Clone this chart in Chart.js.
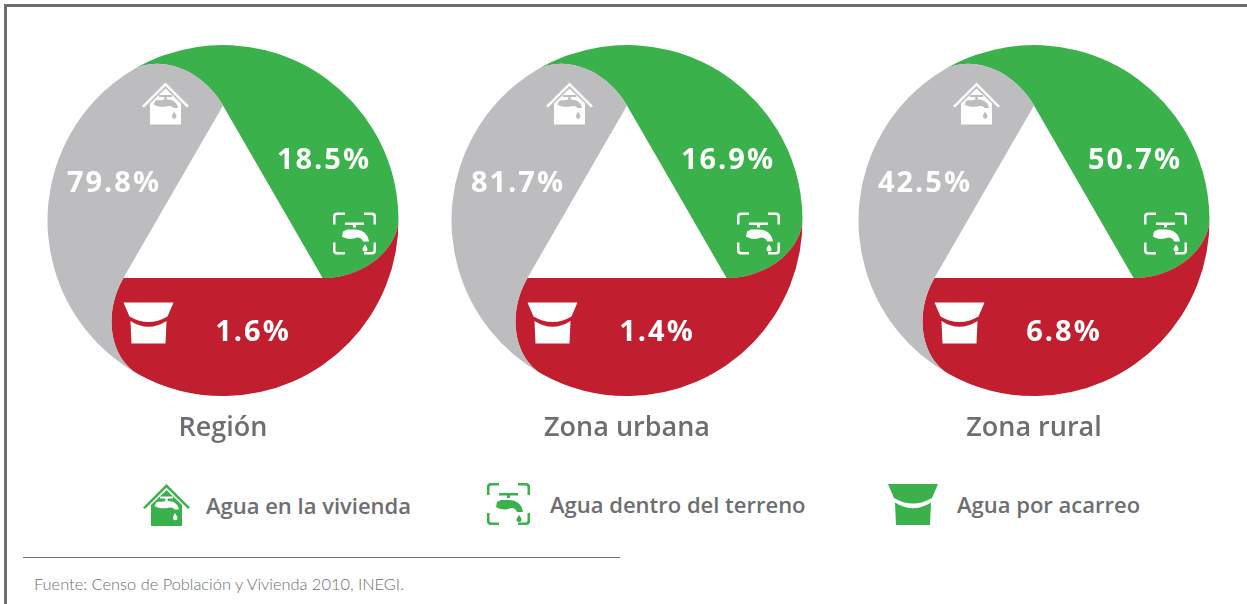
<!DOCTYPE html>
<html lang="es">
<head>
<meta charset="utf-8">
<script src="https://cdn.jsdelivr.net/npm/chart.js@4"></script>
<style>
html,body{margin:0;padding:0;background:#fff;}
body{width:1247px;height:604px;position:relative;overflow:hidden;font-family:"Open Sans",sans-serif;color:#6d6e71;}
#frameTop{position:absolute;left:4px;top:4px;width:1243px;height:3px;background:#6d6e71;}
#frameLeft{position:absolute;left:4px;top:4px;width:3px;height:600px;background:#6d6e71;}
canvas{position:absolute;top:0;}
.leg{position:absolute;white-space:nowrap;font-weight:600;font-size:22px;line-height:28px;}
.ico{position:absolute;}
#rule{position:absolute;left:23px;top:557px;width:597px;height:1px;background:#6d6e71;}
#src{position:absolute;left:34px;top:574px;font-family:"Lato",sans-serif;font-weight:300;font-size:16.4px;line-height:20px;white-space:nowrap;color:#6d6e71;}
</style>
</head>
<body>
<div id="frameTop"></div><div id="frameLeft"></div>
<canvas id="c0" width="400" height="446" style="left:22.5px"></canvas>
<canvas id="c1" width="400" height="446" style="left:427px"></canvas>
<canvas id="c2" width="400" height="446" style="left:833.5px"></canvas>
<div id="legend"></div>
<div id="rule"></div>
<div id="src"></div>
<script>
const categories = ['Agua dentro del terreno', 'Agua por acarreo', 'Agua en la vivienda'];
const panelTitles = ['Región', 'Zona urbana', 'Zona rural'];
const regionValues = [18.5, 1.6, 79.8];
const urbanValues = [16.9, 1.4, 81.7];
const ruralValues = [50.7, 6.8, 42.5];
const sliceColors = ['#3AB14A', '#C11F2F', '#BDBDBF'];
const legendOrder = [2, 0, 1];
const sourceNote = 'Fuente: Censo de Población y Vivienda 2010, INEGI.';

const iconPaths = {
  house: {w:47,h:42,d:'M23.5 0 L47 23.5 L45 25 L23.5 3.5 L2 25 L0 23.5Z M23.5 6 L39 21 V42 H8 V21Z M17 12.5 H30 V14.5 H24.7 V17 C31 17 35 20 36 25.5 H31.5 C30.5 24 29 23.5 27 23.5 C23 24.5 16 25 11.5 22 L13.5 18 C16 17.5 20 18 22.3 17 V14.5 H17Z M32 29 C33.5 31.5 34.5 32.5 34.5 34 A2.2 2.2 0 0 1 30 34 C30 32.5 31 31 32 29Z'},
  tap: {w:43,h:42,d:'M0 12 V4 Q0 0 4 0 H12 V2.5 H4.5 Q2.5 2.5 2.5 4.5 V12Z M31 0 H39 Q43 0 43 4 V12 H40.5 V4.5 Q40.5 2.5 38.5 2.5 H31Z M0 30 H2.5 V37.5 Q2.5 39.5 4.5 39.5 H12 V42 H4 Q0 42 0 38Z M40.5 30 H43 V38 Q43 42 39 42 H31 V39.5 H38.5 Q40.5 39.5 40.5 37.5Z M12 10 H31 V12.5 H23 V15 H20 V12.5 H12Z M14 17 H22 C29 17 35 21 36 29 H30 C29 26 27 25 24 25 C20 27 13 27 9 24 L10 19 C11 18 13 18 14 17Z M32 32 C33.5 34 34.5 35 34.5 36.5 A2.5 2.5 0 0 1 29.5 36.5 C29.5 35 31 34 32 32Z'},
  bucket: {w:50,h:41,d:'M0 0 H50 L44 14 Q25 25 6 14Z M7 18.5 Q25 30 43 18.5 L42 41 H8Z'}
};
const sliceIcons = ['tap', 'bucket', 'house'];
/* offsets from the pie centre */
const labelOffsets = [[101,-60],[30,112.5],[-109,-36.5]];
const iconOffsets = [[131.5,13],[-74.5,102.5],[-57.5,-117]];

const DEG = Math.PI / 180;
const vertexRadiusRatio = 115 / 175.5;
const vertexPhase = 31 * DEG;
const rot = (p, a) => [p[0]*Math.cos(a) - p[1]*Math.sin(a), p[0]*Math.sin(a) + p[1]*Math.cos(a)];

class SwirlArc extends Chart.ArcElement {
  static id = 'swirlArc';
  draw(ctx) {
    const {x, y, startAngle:a0, endAngle:a1, outerRadius:r} = this;
    const rv = r * vertexRadiusRatio;
    const pt = (a, q) => [x + q * Math.cos(a), y + q * Math.sin(a)];
    const P0 = pt(a0, r), P1 = pt(a1, r);
    const Va = pt(a0 + vertexPhase, rv), Vb = pt(a1 + vertexPhase, rv);
    const len = Math.hypot(Vb[0]-Va[0], Vb[1]-Va[1]);
    const u = [(Vb[0]-Va[0])/len, (Vb[1]-Va[1])/len];
    const w = rot(u, 120 * DEG);
    const d1 = r * 0.25, d2 = r * 0.17;
    ctx.save();
    ctx.beginPath();
    ctx.arc(x, y, r, a0, a1);
    ctx.bezierCurveTo(P1[0] - Math.sin(a1)*d2, P1[1] + Math.cos(a1)*d2, Vb[0] - w[0]*d1, Vb[1] - w[1]*d1, Vb[0], Vb[1]);
    ctx.lineTo(Va[0], Va[1]);
    ctx.bezierCurveTo(Va[0] - u[0]*d1, Va[1] - u[1]*d1, P0[0] - Math.sin(a0)*d2, P0[1] + Math.cos(a0)*d2, P0[0], P0[1]);
    ctx.closePath();
    ctx.fillStyle = this.options.backgroundColor;
    ctx.fill();
    ctx.restore();
  }
}
class SwirlController extends Chart.DoughnutController {
  static id = 'swirl';
  static defaults = {...Chart.DoughnutController.defaults, dataElementType:'swirlArc', cutout:0};
  static overrides = Chart.DoughnutController.overrides;
  /* the source draws three equal panels whatever the percentage */
  calculateCircumference() { return 2 * Math.PI / 3; }
}
Chart.register(SwirlArc, SwirlController);

const sliceLabels = {
  id:'sliceLabels',
  afterDatasetsDraw(chart) {
    const {ctx} = chart;
    const meta = chart.getDatasetMeta(0);
    const values = chart.data.datasets[0].data;
    meta.data.forEach((el, i) => {
      const cx = el.x, cy = el.y;
      ctx.save();
      ctx.fillStyle = '#fff';
      ctx.font = '700 29px "Open Sans", sans-serif';
      ctx.letterSpacing = '2px';
      ctx.textAlign = 'center';
      ctx.textBaseline = 'middle';
      ctx.fillText(values[i].toFixed(1) + '%', cx + labelOffsets[i][0], cy + labelOffsets[i][1]);
      const ic = iconPaths[sliceIcons[i]];
      ctx.translate(cx + iconOffsets[i][0] - ic.w/2, cy + iconOffsets[i][1] - ic.h/2);
      ctx.fill(new Path2D(ic.d), 'evenodd');
      ctx.restore();
    });
  }
};

[regionValues, urbanValues, ruralValues].forEach((vals, k) => {
  new Chart(document.getElementById('c' + k), {
    type:'swirl',
    data:{labels:categories, datasets:[{data:vals, backgroundColor:sliceColors, borderWidth:0}]},
    options:{
      responsive:false, animation:false, devicePixelRatio:1, rotation:-31,
      layout:{padding:{left:24.5, right:24.5, top:45, bottom:1.1}},
      events:[],
      plugins:{
        legend:{display:false}, tooltip:{enabled:false},
        title:{display:true, text:panelTitles[k], position:'bottom', color:'#6d6e71',
               font:{family:'"Open Sans", sans-serif', weight:'600', size:27, lineHeight:1.2},
               padding:{top:16.5, bottom:0}}
      }
    },
    plugins:[sliceLabels]
  });
});

/* legend */
const legendLayout = [
  {icon:'house', cx:166, cy:505, tx:206},
  {icon:'tap', cx:508, cy:504, tx:550},
  {icon:'bucket', cx:913, cy:504, tx:957}
];
const lg = document.getElementById('legend');
legendOrder.forEach((c, i) => {
  const L = legendLayout[i], ic = iconPaths[L.icon];
  const s = document.createElementNS('http://www.w3.org/2000/svg','svg');
  s.setAttribute('class','ico'); s.setAttribute('width',ic.w); s.setAttribute('height',ic.h);
  s.setAttribute('style','left:'+(L.cx-ic.w/2)+'px;top:'+(L.cy-ic.h/2)+'px');
  const p = document.createElementNS('http://www.w3.org/2000/svg','path');
  p.setAttribute('d',ic.d); p.setAttribute('fill',sliceColors[0]); p.setAttribute('fill-rule','evenodd');
  s.appendChild(p); lg.appendChild(s);
  const t = document.createElement('div');
  t.className='leg'; t.textContent=categories[c];
  t.style.left=L.tx+'px'; t.style.top=(L.cy-14)+'px';
  lg.appendChild(t);
});
document.getElementById('src').textContent = sourceNote;
</script>
</body>
</html>
